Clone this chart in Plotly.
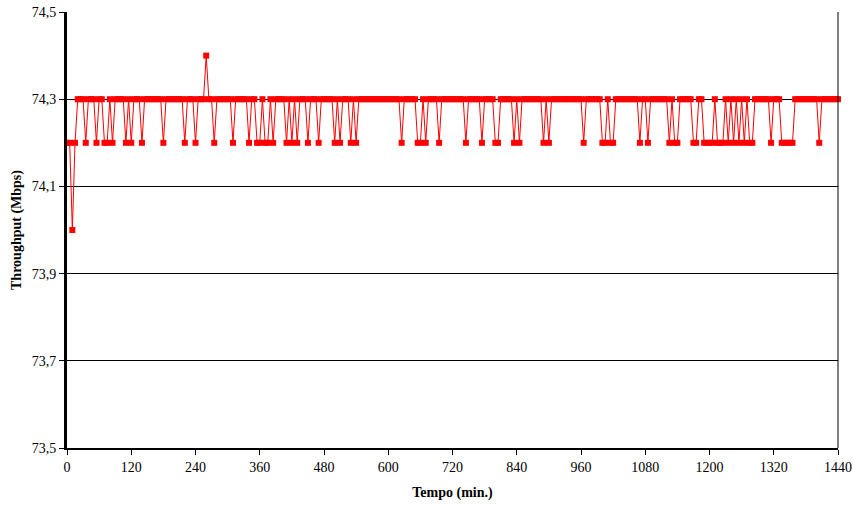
import plotly.graph_objects as go

# Throughput samples every 5 minutes, one row per hour (12 samples each)
hour_00 = [74.2, 74.2, 74.0, 74.2, 74.3, 74.3, 74.3, 74.2, 74.3, 74.3, 74.3, 74.2]
hour_01 = [74.3, 74.3, 74.2, 74.2, 74.3, 74.2, 74.3, 74.3, 74.3, 74.3, 74.2, 74.3]
hour_02 = [74.2, 74.3, 74.3, 74.3, 74.2, 74.3, 74.3, 74.3, 74.3, 74.3, 74.3, 74.3]
hour_03 = [74.2, 74.3, 74.3, 74.3, 74.3, 74.3, 74.3, 74.3, 74.2, 74.3, 74.3, 74.3]
hour_04 = [74.2, 74.3, 74.3, 74.3, 74.4, 74.3, 74.3, 74.2, 74.3, 74.3, 74.3, 74.3]
hour_05 = [74.3, 74.3, 74.2, 74.3, 74.3, 74.3, 74.3, 74.3, 74.2, 74.3, 74.3, 74.2]
hour_06 = [74.2, 74.3, 74.2, 74.2, 74.3, 74.2, 74.3, 74.3, 74.3, 74.3, 74.2, 74.3]
hour_07 = [74.2, 74.3, 74.2, 74.3, 74.3, 74.3, 74.2, 74.3, 74.3, 74.3, 74.2, 74.3]
hour_08 = [74.3, 74.3, 74.3, 74.3, 74.2, 74.3, 74.2, 74.3, 74.3, 74.3, 74.2, 74.3]
hour_09 = [74.2, 74.3, 74.3, 74.3, 74.3, 74.3, 74.3, 74.3, 74.3, 74.3, 74.3, 74.3]
hour_10 = [74.3, 74.3, 74.3, 74.3, 74.3, 74.2, 74.3, 74.3, 74.3, 74.3, 74.3, 74.2]
hour_11 = [74.2, 74.3, 74.2, 74.3, 74.3, 74.3, 74.3, 74.2, 74.3, 74.3, 74.3, 74.3]
hour_12 = [74.3, 74.3, 74.3, 74.3, 74.3, 74.2, 74.3, 74.3, 74.3, 74.3, 74.3, 74.2]
hour_13 = [74.3, 74.3, 74.3, 74.3, 74.2, 74.2, 74.3, 74.3, 74.3, 74.3, 74.3, 74.2]
hour_14 = [74.3, 74.2, 74.3, 74.3, 74.3, 74.3, 74.3, 74.3, 74.3, 74.3, 74.2, 74.3]
hour_15 = [74.2, 74.3, 74.3, 74.3, 74.3, 74.3, 74.3, 74.3, 74.3, 74.3, 74.3, 74.3]
hour_16 = [74.3, 74.2, 74.3, 74.3, 74.3, 74.3, 74.3, 74.3, 74.2, 74.2, 74.3, 74.2]
hour_17 = [74.2, 74.3, 74.3, 74.3, 74.3, 74.3, 74.3, 74.3, 74.3, 74.3, 74.2, 74.3]
hour_18 = [74.3, 74.2, 74.3, 74.3, 74.3, 74.3, 74.3, 74.3, 74.3, 74.2, 74.3, 74.2]
hour_19 = [74.2, 74.3, 74.3, 74.3, 74.3, 74.3, 74.2, 74.2, 74.3, 74.3, 74.2, 74.2]
hour_20 = [74.2, 74.2, 74.3, 74.2, 74.2, 74.2, 74.3, 74.2, 74.3, 74.2, 74.3, 74.2]
hour_21 = [74.3, 74.2, 74.3, 74.2, 74.2, 74.3, 74.3, 74.3, 74.3, 74.3, 74.3, 74.2]
hour_22 = [74.3, 74.3, 74.3, 74.2, 74.2, 74.2, 74.2, 74.2, 74.3, 74.3, 74.3, 74.3]
hour_23 = [74.3, 74.3, 74.3, 74.3, 74.3, 74.2, 74.3, 74.3, 74.3, 74.3, 74.3, 74.3]
final_sample = [74.3]

throughput = (hour_00 + hour_01 + hour_02 + hour_03 + hour_04 + hour_05 + hour_06 + hour_07
              + hour_08 + hour_09 + hour_10 + hour_11 + hour_12 + hour_13 + hour_14 + hour_15
              + hour_16 + hour_17 + hour_18 + hour_19 + hour_20 + hour_21 + hour_22 + hour_23
              + final_sample)
sample_interval_min = 5
tempo_min = [i * sample_interval_min for i in range(len(throughput))]

x_ticks = [0, 120, 240, 360, 480, 600, 720, 840, 960, 1080, 1200, 1320, 1440]
y_ticks = [73.5, 73.7, 73.9, 74.1, 74.3, 74.5]

FONT = "Liberation Serif, Times New Roman, serif"

fig = go.Figure()
fig.add_trace(go.Scatter(
    x=tempo_min, y=throughput, mode="lines+markers",
    line=dict(color="#FF0000", width=1),
    marker=dict(symbol="square", size=6, color="#FF0000"),
    showlegend=False, cliponaxis=False,
))

fig.update_layout(
    width=853, height=508,
    margin=dict(l=67, r=15, t=12, b=60, autoexpand=False),
    paper_bgcolor="white", plot_bgcolor="white",
    separators=",.",
    font=dict(family=FONT, size=14, color="black"),
    xaxis=dict(
        range=[0, 1440], tickvals=x_ticks, showgrid=False, zeroline=False,
        showline=True, linecolor="black", linewidth=2, automargin=False,
        ticks="outside", ticklen=5, tickcolor="black", tickwidth=1,
        tickfont=dict(family=FONT, size=14),
        title=dict(text="<b>Tempo (min.)</b>", font=dict(family=FONT, size=14), standoff=13),
    ),
    yaxis=dict(
        range=[73.5, 74.5], tickvals=y_ticks, tickformat=".1f",
        showgrid=True, gridcolor="black", gridwidth=1, zeroline=False,
        showline=True, linecolor="black", linewidth=3, automargin=False,
        ticks="outside", ticklen=5, tickcolor="black", tickwidth=1,
        tickfont=dict(family=FONT, size=14),
        title=dict(text="<b>Throughput (Mbps)</b>", font=dict(family=FONT, size=14), standoff=7),
    ),
    shapes=[dict(type="line", xref="paper", yref="paper", x0=1, x1=1, y0=0, y1=1,
                 line=dict(color="black", width=1))],
)

fig.write_html("out.html", config={"displayModeBar": False},
               post_script="document.body.style.margin='0';")
